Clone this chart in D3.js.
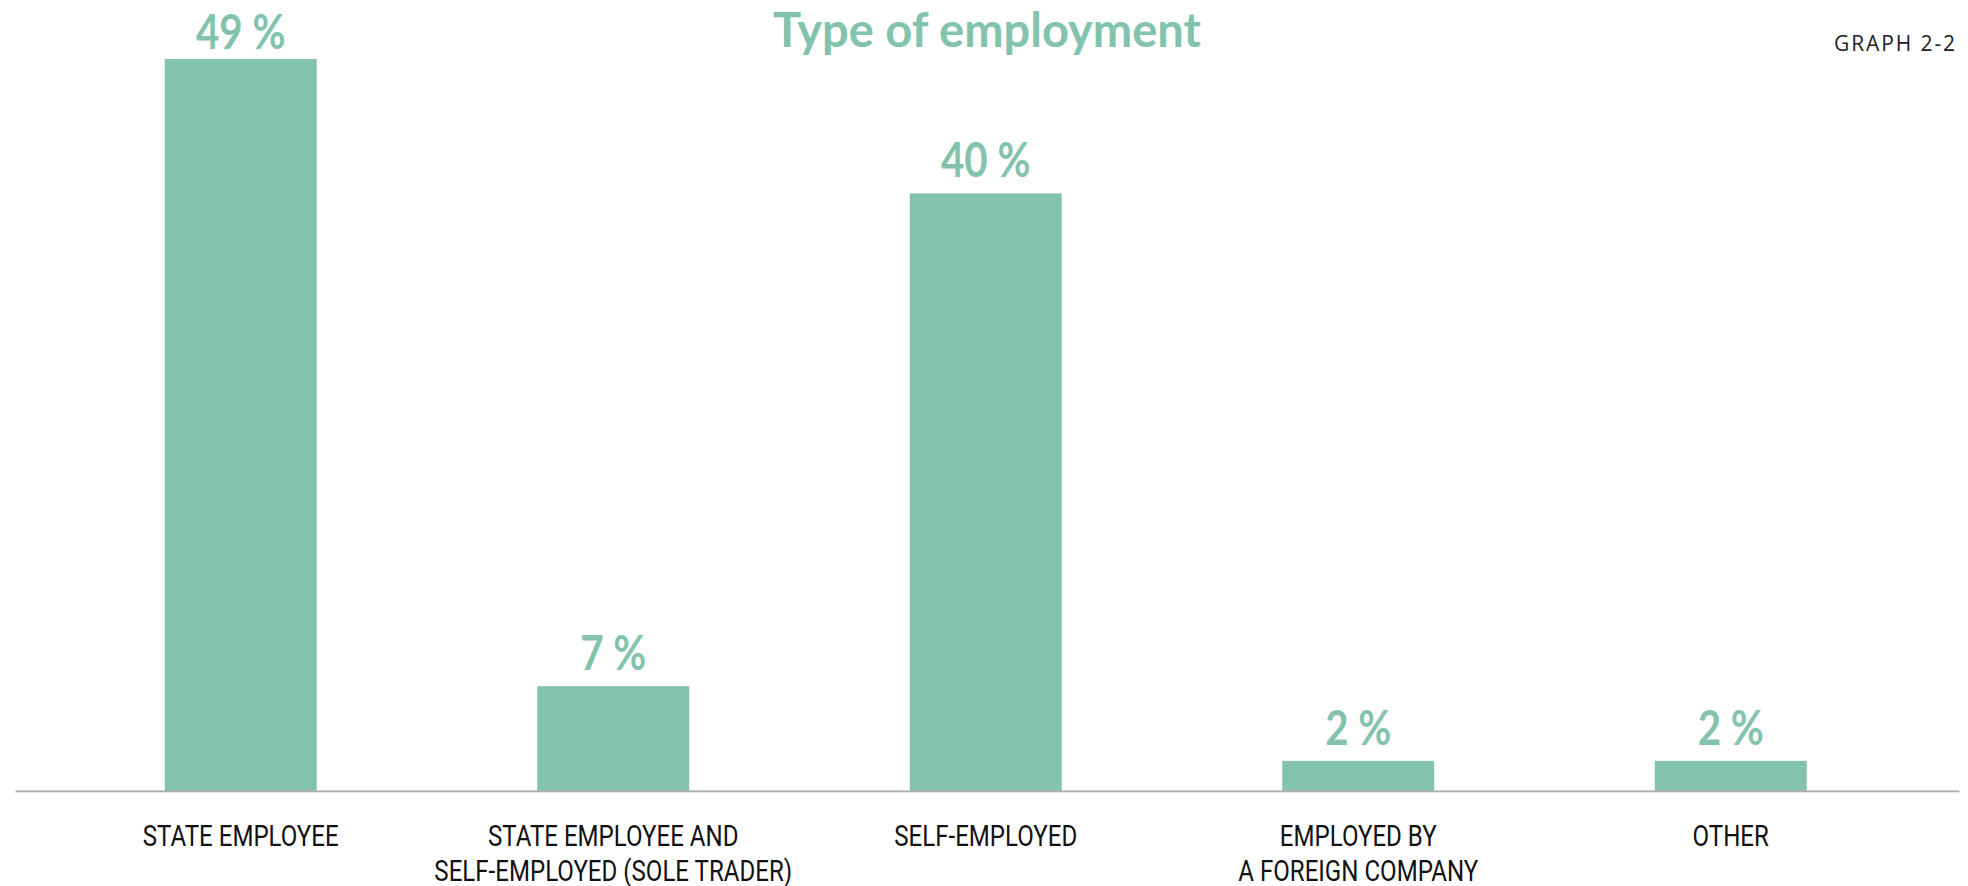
<!DOCTYPE html>
<html>
<head>
<meta charset="utf-8">
<script src="https://cdn.jsdelivr.net/npm/d3@7"></script>
<style>
  html, body { margin: 0; padding: 0; background: #ffffff; }
  svg { display: block; }
</style>
</head>
<body>
<svg id="chart" width="1968" height="886"></svg>
<script>
// Type of employment — share of respondents, %
const categories = [
  "STATE EMPLOYEE",
  "STATE EMPLOYEE AND\nSELF-EMPLOYED (SOLE TRADER)",
  "SELF-EMPLOYED",
  "EMPLOYED BY\nA FOREIGN COMPANY",
  "OTHER"
];
const values = [49, 7, 40, 2, 2];
const valueSuffix = " %";
const titleText = "Type of employment";
const graphTag = "GRAPH 2-2";

const green = "#83c3ae";
const axisY = 790.7;

const svg = d3.select("#chart");

const x = d3.scaleBand()
  .domain(categories)
  .range([54.5, 1917])
  .paddingInner(0.592)
  .paddingOuter(0.296);

const y = d3.scaleLinear()
  .domain([0, 49])
  .range([axisY, 59]);

// squeeze a text element horizontally around its anchor
function condense(sel, k) {
  sel.each(function () {
    const w = this.getComputedTextLength();
    d3.select(this)
      .attr("textLength", w * k)
      .attr("lengthAdjust", "spacingAndGlyphs");
  });
}

// bars
svg.append("g")
  .selectAll("rect")
  .data(values)
  .join("rect")
  .attr("x", (d, i) => x(categories[i]))
  .attr("width", x.bandwidth())
  .attr("y", d => y(d))
  .attr("height", d => axisY - y(d))
  .attr("fill", green);

// baseline axis
const axis = svg.append("g")
  .attr("transform", `translate(0,${axisY})`)
  .call(d3.axisBottom(d3.scaleLinear().range([15, 1959])).ticks(0).tickSize(0).tickFormat(""));
axis.select(".domain").attr("stroke", "#9b9b9b").attr("stroke-width", 1.6);
svg.append("line")
  .attr("x1", 15).attr("x2", 1959)
  .attr("y1", axisY + 1.6).attr("y2", axisY + 1.6)
  .attr("stroke", "#e6e6e6").attr("stroke-width", 1.2);

// value labels above bars (kept inside the top edge)
svg.append("g")
  .selectAll("text")
  .data(values)
  .join("text")
  .attr("x", (d, i) => x(categories[i]) + x.bandwidth() / 2)
  .attr("y", d => Math.max(y(d) - 16, 49))
  .attr("text-anchor", "middle")
  .attr("font-family", "Lato, 'Open Sans', sans-serif")
  .attr("font-weight", 700)
  .attr("font-size", 48)
  .attr("fill", green)
  .text(d => d + valueSuffix)
  .call(condense, 0.84);

// category labels under the axis
const catG = svg.append("g");
categories.forEach((c, i) => {
  const cx = x(c) + x.bandwidth() / 2;
  c.split("\n").forEach((line, j) => {
    catG.append("text")
      .attr("x", cx)
      .attr("y", 846 + j * 34.5)
      .attr("text-anchor", "middle")
      .attr("font-family", "Roboto, 'Noto Sans', sans-serif")
      .attr("font-size", 29)
      .attr("fill", "#111111")
      .text(line)
      .call(condense, 0.83);
  });
});

// title
svg.append("text")
  .attr("x", 987)
  .attr("y", 46.7)
  .attr("text-anchor", "middle")
  .attr("font-family", "Lato, 'Open Sans', sans-serif")
  .attr("font-weight", 700)
  .attr("font-size", 47)
  .attr("fill", green)
  .text(titleText);

// graph reference tag
svg.append("text")
  .attr("x", 1957)
  .attr("y", 51)
  .attr("text-anchor", "end")
  .attr("font-family", "'Open Sans', Lato, sans-serif")
  .attr("font-size", 21)
  .attr("letter-spacing", 1.9)
  .attr("fill", "#222222")
  .text(graphTag);
</script>
</body>
</html>
